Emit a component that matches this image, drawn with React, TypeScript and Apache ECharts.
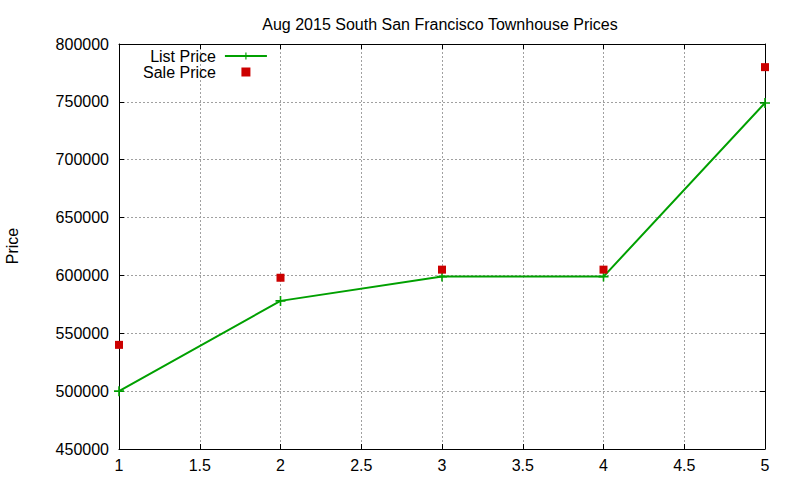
import { useEffect, useRef } from 'react';
import * as echarts from 'echarts';

const titleText = 'Aug 2015 South San Francisco Townhouse Prices';
const yLabel = 'Price';
const xValues = [1, 2, 3, 4, 5];
const listPrice = [500000, 578000, 599000, 599000, 749000];
const salePrice = [540000, 598000, 605000, 605000, 780000];

const FONT = 'Liberation Sans, Arial, sans-serif';
const GREEN = '#00a000';
const RED = '#cc0000';
const PLUS = 'path://M0,4.2L10,4.2L10,5.8L0,5.8ZM4.2,0L5.8,0L5.8,10L4.2,10Z';
const SQUARE = 'path://M0,0L10,0L10,10L0,10Z';

const App = () => {
  const chartRef = useRef<HTMLDivElement>(null);

  useEffect(() => {
    document.body.style.margin = '0';
    if (!chartRef.current) return;
    const chart = echarts.init(chartRef.current, undefined, { renderer: 'svg' });

    const gridLine = { show: true, lineStyle: { color: '#a0a0a0', type: [2, 2] as any, width: 1 } };
    const border = { show: true, onZero: false, lineStyle: { color: '#000', width: 1 } };
    const tick = { show: true, inside: true, length: 5, lineStyle: { color: '#000' } };

    const option: echarts.EChartsOption = {
      animation: false,
      backgroundColor: '#fff',
      title: {
        text: titleText,
        left: 435,
        top: 11,
        textAlign: 'center',
        textStyle: { fontFamily: FONT, fontSize: 16, fontWeight: 'normal', color: '#000' },
      },
      legend: {
        orient: 'vertical',
        align: 'right',
        left: 138,
        top: 43,
        itemWidth: 42,
        itemHeight: 9,
        itemGap: 0,
        symbolKeepAspect: true,
        textStyle: { fontFamily: FONT, fontSize: 16, color: '#000', lineHeight: 16, padding: [0, 4, 0, 0] },
        data: [
          { name: 'List Price' },
          { name: 'Sale Price', icon: SQUARE },
        ],
      },
      grid: { left: 119, right: 35, top: 44, bottom: 31 },
      xAxis: [
        {
          type: 'value',
          min: 1,
          max: 5,
          interval: 0.5,
          position: 'bottom',
          axisLine: border,
          axisTick: tick,
          splitLine: gridLine,
          axisLabel: { fontFamily: FONT, fontSize: 16, color: '#000', margin: 8 },
        },
        {
          type: 'value',
          min: 1,
          max: 5,
          interval: 0.5,
          position: 'top',
          axisLine: border,
          axisTick: tick,
          splitLine: { show: false },
          axisLabel: { show: false },
        },
      ],
      yAxis: [
        {
          type: 'value',
          min: 450000,
          max: 800000,
          interval: 50000,
          position: 'left',
          axisLine: border,
          axisTick: tick,
          splitLine: gridLine,
          axisLabel: {
            fontFamily: FONT,
            fontSize: 16,
            color: '#000',
            margin: 10,
            formatter: (v: number) => String(v),
          },
        },
        {
          type: 'value',
          min: 450000,
          max: 800000,
          interval: 50000,
          position: 'right',
          axisLine: border,
          axisTick: tick,
          splitLine: { show: false },
          axisLabel: { show: false },
        },
      ],
      graphic: [
        {
          type: 'text',
          x: 12,
          y: 246,
          rotation: Math.PI / 2,
          style: {
            text: yLabel,
            fontFamily: FONT,
            fontSize: 16,
            fill: '#000',
            align: 'center',
            verticalAlign: 'middle',
          },
        },
      ],
      series: [
        {
          name: 'List Price',
          type: 'line',
          xAxisIndex: 0,
          yAxisIndex: 0,
          data: xValues.map((x, i) => [x, listPrice[i]]),
          symbol: PLUS,
          symbolSize: 10,
          showAllSymbol: true,
          lineStyle: { color: GREEN, width: 2 },
          itemStyle: { color: GREEN },
          z: 3,
        },
        {
          name: 'Sale Price',
          type: 'scatter',
          xAxisIndex: 0,
          yAxisIndex: 0,
          data: xValues.map((x, i) => [x, salePrice[i]]),
          symbol: 'rect',
          symbolSize: 8,
          itemStyle: { color: RED, opacity: 1 },
          z: 4,
        },
      ],
    };

    chart.setOption(option);
    return () => {
      chart.dispose();
    };
  }, []);

  return <div ref={chartRef} style={{ width: 800, height: 480 }} />;
};

export default App;
